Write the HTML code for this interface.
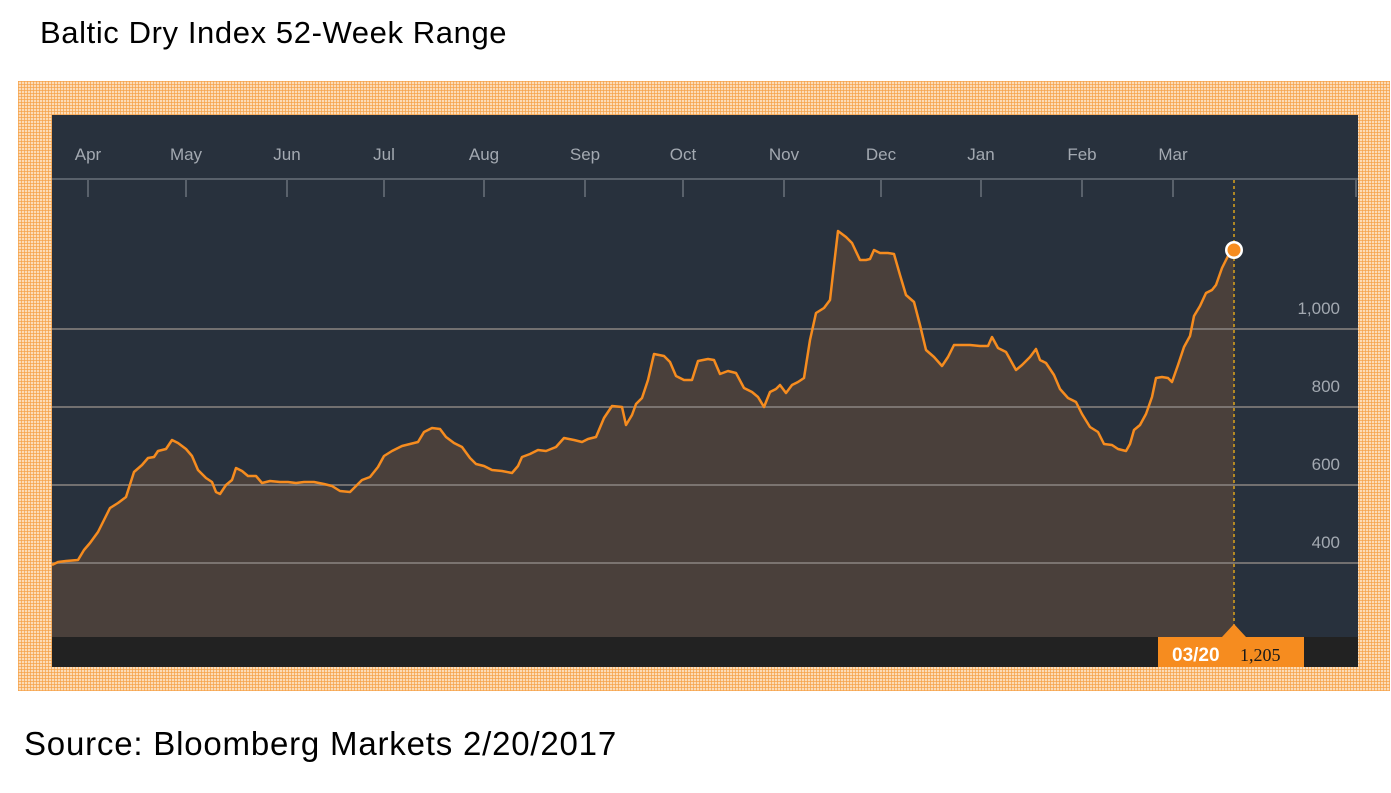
<!DOCTYPE html>
<html><head><meta charset="utf-8"><style>
body{margin:0;width:1391px;height:793px;background:#fff;position:relative;overflow:hidden;font-family:"Liberation Sans",sans-serif}
.frame{position:absolute;left:18px;top:81px;width:1372px;height:610px;background-color:#fcdcb8;
background-image:repeating-linear-gradient(0deg,rgba(245,160,70,.7) 0 1px,transparent 1px 3px),repeating-linear-gradient(90deg,rgba(245,160,70,.7) 0 1px,transparent 1px 3px)}
.t{position:absolute;color:#000}
</style></head><body>
<div class="t" style="left:40px;top:15px;font-size:31px;letter-spacing:0.6px">Baltic Dry Index 52-Week Range</div>
<div class="frame"></div>
<svg style="position:absolute;left:0;top:0" width="1391" height="793">
<rect x="52" y="115" width="1306" height="552" fill="#28313d"/>
<rect x="52" y="637" width="1306" height="30" fill="#222222"/>
<line x1="52" y1="179" x2="1358" y2="179" stroke="#59616b" stroke-width="2"/>
<g stroke="#59616b" stroke-width="2">
<line x1="88" y1="179" x2="88" y2="197"/><line x1="186" y1="179" x2="186" y2="197"/><line x1="287" y1="179" x2="287" y2="197"/><line x1="384" y1="179" x2="384" y2="197"/><line x1="484" y1="179" x2="484" y2="197"/><line x1="585" y1="179" x2="585" y2="197"/><line x1="683" y1="179" x2="683" y2="197"/><line x1="784" y1="179" x2="784" y2="197"/><line x1="881" y1="179" x2="881" y2="197"/><line x1="981" y1="179" x2="981" y2="197"/><line x1="1082" y1="179" x2="1082" y2="197"/><line x1="1173" y1="179" x2="1173" y2="197"/><line x1="1356" y1="179" x2="1356" y2="197"/>
</g>
<g fill="#a3a9b1" font-size="17" text-anchor="middle">
<text x="88" y="160">Apr</text><text x="186" y="160">May</text><text x="287" y="160">Jun</text><text x="384" y="160">Jul</text><text x="484" y="160">Aug</text><text x="585" y="160">Sep</text><text x="683" y="160">Oct</text><text x="784" y="160">Nov</text><text x="881" y="160">Dec</text><text x="981" y="160">Jan</text><text x="1082" y="160">Feb</text><text x="1173" y="160">Mar</text>
</g>
<polygon fill="#4a403b" points="52,637 52,565 58,562 66,561 78,560 84,550 90,543 98,532 104,520 110,508 118,503 126,497 134,472 142,465 148,458 154,457 158,451 166,449 172,440 178,443 186,449 192,456 198,470 206,478 212,482 216,492 220,494 226,485 232,480 236,468 242,471 248,476 256,476 262,483 270,481 280,482 288,482 296,483 304,482 314,482 324,484 332,486 340,491 350,492 356,486 362,480 370,477 378,467 384,456 392,451 402,446 410,444 418,442 424,432 432,428 440,429 446,437 454,443 462,447 470,458 476,464 484,466 492,470 502,471 512,473 518,466 522,457 530,454 538,450 546,451 556,447 564,438 574,440 582,442 588,439 596,437 604,418 612,406 622,407 626,425 632,415 636,404 642,398 648,380 654,354 664,356 670,362 676,376 684,380 692,380 698,361 708,359 714,360 720,374 728,371 736,373 744,388 752,392 758,397 764,407 770,392 776,389 780,385 786,393 792,385 798,382 804,378 810,340 816,313 824,308 830,300 834,265 838,231 846,237 852,243 860,260 866,260 870,259 874,250 880,253 888,253 894,254 900,275 906,295 914,302 920,325 926,350 934,357 942,366 948,357 954,345 960,345 970,345 980,346 988,346 992,337 998,348 1006,352 1016,370 1022,365 1030,357 1036,349 1040,360 1046,363 1054,375 1060,389 1068,398 1076,402 1082,414 1090,427 1098,432 1104,444 1112,445 1118,449 1126,451 1130,444 1134,430 1140,425 1146,414 1152,397 1156,378 1162,377 1168,378 1172,382 1178,365 1184,347 1190,336 1194,316 1200,306 1206,293 1212,290 1216,285 1222,268 1228,256 1234,250 1234,637"/>
<g stroke="#8b8682" stroke-width="1.5">
<line x1="52" y1="329" x2="1358" y2="329"/><line x1="52" y1="407" x2="1358" y2="407"/><line x1="52" y1="485" x2="1358" y2="485"/><line x1="52" y1="563" x2="1358" y2="563"/>
</g>
<g fill="#a3a9b1" font-size="17" text-anchor="end">
<text x="1340" y="314">1,000</text><text x="1340" y="392">800</text><text x="1340" y="470">600</text><text x="1340" y="548">400</text>
</g>
<polyline fill="none" stroke="#f68c1f" stroke-width="2.5" stroke-linejoin="round" points="52,565 58,562 66,561 78,560 84,550 90,543 98,532 104,520 110,508 118,503 126,497 134,472 142,465 148,458 154,457 158,451 166,449 172,440 178,443 186,449 192,456 198,470 206,478 212,482 216,492 220,494 226,485 232,480 236,468 242,471 248,476 256,476 262,483 270,481 280,482 288,482 296,483 304,482 314,482 324,484 332,486 340,491 350,492 356,486 362,480 370,477 378,467 384,456 392,451 402,446 410,444 418,442 424,432 432,428 440,429 446,437 454,443 462,447 470,458 476,464 484,466 492,470 502,471 512,473 518,466 522,457 530,454 538,450 546,451 556,447 564,438 574,440 582,442 588,439 596,437 604,418 612,406 622,407 626,425 632,415 636,404 642,398 648,380 654,354 664,356 670,362 676,376 684,380 692,380 698,361 708,359 714,360 720,374 728,371 736,373 744,388 752,392 758,397 764,407 770,392 776,389 780,385 786,393 792,385 798,382 804,378 810,340 816,313 824,308 830,300 834,265 838,231 846,237 852,243 860,260 866,260 870,259 874,250 880,253 888,253 894,254 900,275 906,295 914,302 920,325 926,350 934,357 942,366 948,357 954,345 960,345 970,345 980,346 988,346 992,337 998,348 1006,352 1016,370 1022,365 1030,357 1036,349 1040,360 1046,363 1054,375 1060,389 1068,398 1076,402 1082,414 1090,427 1098,432 1104,444 1112,445 1118,449 1126,451 1130,444 1134,430 1140,425 1146,414 1152,397 1156,378 1162,377 1168,378 1172,382 1178,365 1184,347 1190,336 1194,316 1200,306 1206,293 1212,290 1216,285 1222,268 1228,256 1234,250"/>
<line x1="1234" y1="180" x2="1234" y2="626" stroke="#d9a21c" stroke-width="1.5" stroke-dasharray="3,3"/>
<circle cx="1234" cy="250" r="9" fill="#fff"/><circle cx="1234" cy="250" r="6.5" fill="#f68c1f"/>
<polygon points="1222,637 1234,624 1246,637" fill="#f68c1f"/>
<rect x="1158" y="637" width="146" height="30" fill="#f68c1f"/>
<text x="1172" y="661" fill="#fff" font-size="19" font-weight="bold">03/20</text>
<text x="1240" y="661" fill="#1a1a1a" font-size="18" font-family="Liberation Serif">1,205</text>
</svg>
<div class="t" style="left:24px;top:725px;font-size:33px;letter-spacing:0.8px">Source: Bloomberg Markets 2/20/2017</div>
</body></html>
